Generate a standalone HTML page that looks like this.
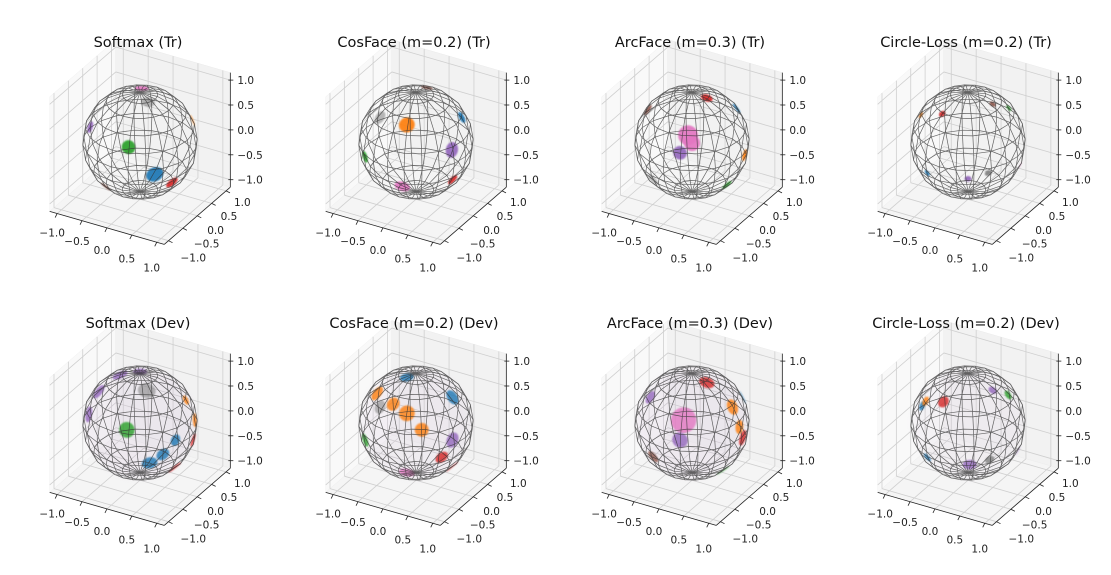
<!DOCTYPE html>
<html><head><meta charset="utf-8">
<style>
html,body{margin:0;padding:0;background:#fff;}
svg{display:block;font-family:"DejaVu Sans","Liberation Sans",sans-serif;}
</style></head>
<body>
<svg id="fig" width="1111" height="575" viewBox="0 0 1111 575" xmlns="http://www.w3.org/2000/svg">
<defs>
<filter id="soft" x="-50%" y="-50%" width="200%" height="200%"><feGaussianBlur stdDeviation="0.8"/></filter>
<filter id="haze" x="-20%" y="-20%" width="140%" height="140%"><feGaussianBlur stdDeviation="3"/></filter>
</defs>
</svg>
<script>
const panelTitles = ["Softmax (Tr)","CosFace (m=0.2) (Tr)","ArcFace (m=0.3) (Tr)","Circle-Loss (m=0.2) (Tr)",
  "Softmax (Dev)","CosFace (m=0.2) (Dev)","ArcFace (m=0.3) (Dev)","Circle-Loss (m=0.2) (Dev)"];
const tickValues = [-1.0,-0.5,0.0,0.5,1.0];
const tickLabels = ["\u22121.0","\u22120.5","0.0","0.5","1.0"];
const palette = ["#1f77b4","#ff7f0e","#2ca02c","#d62728","#9467bd","#8c564b","#e377c2","#7f7f7f"];
// cluster centroids in view-space (a: screen right, b: screen up, side: +1 front / -1 back), size in degrees
const clusterColor = [
 [6,7,1,4,2,0,3,5],[5,7,1,0,4,2,3,6],[3,0,5,6,6,4,1,2,7],[1,3,5,2,6,7,4,0],
 [4,4,4,4,7,2,0,0,0,3,1,3,1],[1,1,1,1,7,0,0,2,4,3,3,6],[3,3,1,1,0,4,6,4,2,5],[0,1,3,4,2,4,7,4,0]];
const clusterA = [
 [0.03,0.14,0.92,-0.87,-0.2,0.26,0.56,-0.6],
 [0.19,-0.63,-0.16,0.8,0.63,-0.89,0.64,-0.24],
 [0.26,0.78,-0.77,-0.07,0.0,-0.21,0.92,0.61,-0.68],
 [-0.82,-0.45,0.43,0.71,0.96,0.35,0,-0.71],
 [-0.9,-0.72,-0.35,0.0,0.12,-0.23,0.17,0.4,0.62,0.61,0.96,0.93,0.8],
 [-0.68,-0.4,-0.16,0.1,-0.63,0.64,-0.16,-0.89,0.64,0.64,0.45,-0.16],
 [0.26,0.89,0.71,0.83,0.89,-0.73,-0.15,-0.21,0.57,-0.68],
 [-0.8,-0.74,-0.43,0.43,0.7,0.03,0.38,0.9,-0.71]];
const clusterB = [
 [0.94,0.7,0.38,0.26,-0.09,-0.57,-0.71,-0.78],
 [0.95,0.43,0.3,0.43,-0.14,-0.26,-0.66,-0.78],
 [0.77,0.59,0.56,0.12,-0.02,-0.19,-0.23,-0.75,-0.66],
 [0.47,0.49,0.66,0.59,-0.42,-0.54,-0.64,-0.54],
 [0.15,0.55,0.84,0.9,0.57,-0.12,-0.7,-0.55,-0.3,-0.78,0.05,-0.3,0.4],
 [0.52,0.33,0.17,-0.12,0.28,0.45,0.8,-0.3,-0.3,-0.77,-0.6,-0.87],
 [0.71,-0.26,0.28,-0.07,0.45,0.45,0.05,-0.3,-0.87,-0.59],
 [0.3,0.38,0.37,0.57,0.49,-0.73,-0.64,-0.5,-0.6]];
const clusterSide = [
 [1,-1,1,1,1,1,1,1],[1,-1,1,1,1,1,1,1],[1,1,1,1,1,1,1,1,-1],[1,1,1,1,1,1,1,1],
 [1,1,1,1,-1,1,1,1,1,1,1,1,1],[1,1,1,1,-1,1,1,1,1,1,1,1],[1,1,1,1,1,1,1,1,1,1],[1,1,1,1,1,1,1,1,1]];
const clusterSize = [
 [7,7,6,6,7,9,7,6],[6,7,8,6,8,6,6,8],[6,6,6,10,8,7,6,6,7],[3.5,3.5,3.5,3.5,3.5,3.5,3.5,3.5],
 [8,8,8,7,9,8,8,7,6,8,7,7,5],[8,7,8,7,7,8,7,7,8,8,7,8],[8,8,8,7,7,7,13,8,8,7],[5,5,6,4.5,5,7,5,5,5]];
const hazeOpacity = [0,0,0,0,0.18,0.14,0.18,0.1];

const NS="http://www.w3.org/2000/svg";
const svg=document.getElementById("fig");
const S=57.5, L=1.15;
const U=[0.866,0.5,0], V=[-0.25,0.433,0.866], W=[0.433,-0.75,0.5];
function mk(tag,attrs,parent){const e=document.createElementNS(NS,tag);for(const k in attrs)e.setAttribute(k,attrs[k]);(parent||svg).appendChild(e);return e;}

for(let p=0;p<8;p++){
  const ox=140+276*(p%4), oy=142+281*Math.floor(p/4);
  const P=(x,y,z)=>[ox+S*(U[0]*x+U[1]*y+U[2]*z), oy-S*(V[0]*x+V[1]*y+V[2]*z)];
  const g=mk("g",{});
  
  
  const poly=(pts,attrs)=>mk("polygon",Object.assign({points:pts.map(q=>q.join(",")).join(" ")},attrs),g);
  const left=poly([P(-L,-L,-L),P(-L,L,-L),P(-L,L,L),P(-L,-L,L)],{fill:"#f9f9f9",stroke:"#f0f0f0","stroke-width":0.5});
  
  const back=poly([P(-L,L,-L),P(L,L,-L),P(L,L,L),P(-L,L,L)],{fill:"#f2f2f2",stroke:"#ebebeb","stroke-width":0.5});
  
  const floor=poly([P(-L,-L,-L),P(L,-L,-L),P(L,L,-L),P(-L,L,-L)],{fill:"#f5f5f5",stroke:"#eeeeee","stroke-width":0.5});
  
  const line=(a,b,attrs)=>mk("line",Object.assign({x1:a[0],y1:a[1],x2:b[0],y2:b[1]},attrs),g);
  const gs={stroke:"#cfcfcf","stroke-width":0.8};
  for(const t of tickValues){
    line(P(-L,t,-L),P(-L,t,L),gs); line(P(-L,-L,t),P(-L,L,t),gs);
    line(P(t,L,-L),P(t,L,L),gs); line(P(-L,L,t),P(L,L,t),gs);
    line(P(t,-L,-L),P(t,L,-L),gs); line(P(-L,t,-L),P(L,t,-L),gs);
  }
  const ax={stroke:"#222","stroke-width":0.8};
  const xa=line(P(-L,-L,-L),P(L,-L,-L),ax);
  const ya=line(P(L,-L,-L),P(L,L,-L),ax);
  const za=line(P(L,L,-L),P(L,L,L),ax);
  tickValues.forEach((t,i)=>{
    let a=P(t,-L,-L); line(a,[a[0]-2,a[1]+4],ax);
    let tx=mk("text",{x:a[0]-5,y:a[1]+23+3*(t+1),"font-size":10.5,"text-anchor":"middle",fill:"#222"},g);tx.textContent=tickLabels[i];
    
    a=P(L,t,-L); line(a,[a[0]+4,a[1]+2],ax);
    let ty=mk("text",{x:a[0]+8+2*(1-t),y:a[1]+15+3*(1-t),"font-size":10.5,"text-anchor":"start",fill:"#222"},g);ty.textContent=tickLabels[i];
    
    a=P(L,L,t); line([a[0]-2,a[1]],[a[0]+3,a[1]],ax);
    let tz=mk("text",{x:a[0]+7,y:a[1]+4,"font-size":10.5,"text-anchor":"start",fill:"#222"},g);tz.textContent=tickLabels[i];
    
  });
  const tt=mk("text",{x:ox-2,y:oy-95,"font-size":14.5,"text-anchor":"middle",fill:"#111"},g);
  tt.textContent=panelTitles[p];
  
  if(hazeOpacity[p]>0){
    const h=mk("circle",{cx:ox,cy:oy,r:S*0.97,fill:"#d0b8d8",opacity:hazeOpacity[p],filter:"url(#haze)"},g);
    
  }
  for(let c=0;c<clusterA[p].length;c++){
    let a=clusterA[p][c], b=clusterB[p][c];
    let r2=a*a+b*b; if(r2>0.995){const k=Math.sqrt(0.995/r2);a*=k;b*=k;r2=0.995;}
    const d=clusterSide[p][c]*Math.sqrt(1-r2);
    const n=[a*U[0]+b*V[0]+d*W[0],a*U[1]+b*V[1]+d*W[1],a*U[2]+b*V[2]+d*W[2]];
    let ref=Math.abs(n[2])<0.9?[0,0,1]:[1,0,0];
    let t1=[n[1]*ref[2]-n[2]*ref[1],n[2]*ref[0]-n[0]*ref[2],n[0]*ref[1]-n[1]*ref[0]];
    const ln=Math.hypot(...t1);t1=t1.map(v=>v/ln);
    const t2=[n[1]*t1[2]-n[2]*t1[1],n[2]*t1[0]-n[0]*t1[2],n[0]*t1[1]-n[1]*t1[0]];
    const rr=clusterSize[p][c]*Math.PI/180;
    const pts=[];
    for(let k=0;k<24;k++){const th=k/24*2*Math.PI;
      const q=[0,1,2].map(i=>Math.cos(rr)*n[i]+Math.sin(rr)*(Math.cos(th)*t1[i]+Math.sin(th)*t2[i]));
      pts.push(P(q[0],q[1],q[2]));}
    const dev=p>=4;
    const el=poly(pts,{fill:palette[clusterColor[p][c]],opacity:(clusterSide[p][c]>0?(dev?0.8:0.92):0.55),filter:"url(#soft)"});
    
    
  }
  const wf=mk("g",{fill:"none",stroke:"#333","stroke-width":0.7,opacity:0.75},g);
  
  const NU=20, NV=10;
  for(let i=0;i<NU;i++){const u=i/NU*2*Math.PI;const pts=[];
    for(let j=0;j<=NV;j++){const v=j/NV*Math.PI;pts.push(P(Math.cos(u)*Math.sin(v),Math.sin(u)*Math.sin(v),Math.cos(v)));}
    mk("polyline",{points:pts.map(q=>q.join(",")).join(" ")},wf);}
  for(let j=1;j<NV;j++){const v=j/NV*Math.PI;const pts=[];
    for(let i=0;i<=NU;i++){const u=i/NU*2*Math.PI;pts.push(P(Math.cos(u)*Math.sin(v),Math.sin(u)*Math.sin(v),Math.cos(v)));}
    mk("polyline",{points:pts.map(q=>q.join(",")).join(" ")},wf);}
}
</script>
</body></html>
